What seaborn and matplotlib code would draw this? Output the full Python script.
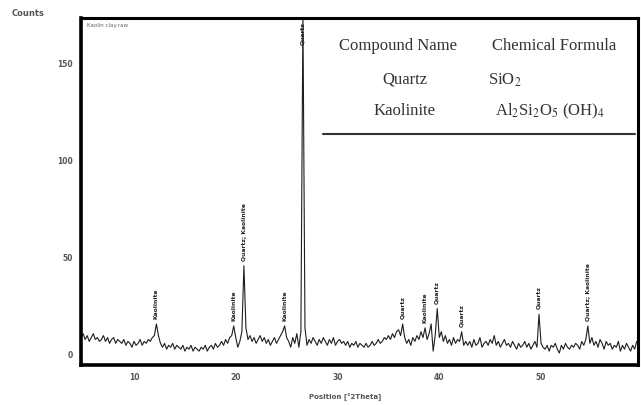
import numpy as np
import pandas as pd
import matplotlib
matplotlib.use("Agg")
import matplotlib.pyplot as plt
import seaborn as sns

# XRD scan: counts recorded on a uniform 2-theta grid
scan_start = 4.8
scan_step = 0.2
counts = [
    9, 11, 8, 10, 7, 9, 11, 8, 9, 7,          # 4.8 - 6.6
    8, 10, 7, 9, 6, 8, 9, 6, 8, 7,            # 6.8 - 8.6
    6, 8, 5, 7, 6, 4, 7, 5, 6, 8,             # 8.8 - 10.6
    5, 7, 6, 8, 7, 9, 10, 16, 10, 6,          # 10.8 - 12.6
    4, 6, 3, 5, 4, 6, 3, 5, 4, 3,             # 12.8 - 14.6
    5, 2, 4, 3, 5, 2, 4, 3, 2, 4,             # 14.8 - 16.6
    3, 5, 2, 4, 5, 3, 6, 4, 5, 7,             # 16.8 - 18.6
    5, 8, 6, 9, 10, 15, 9, 4, 7, 12,          # 18.8 - 20.6
    46, 14, 8, 10, 7, 9, 6, 8, 10, 7,         # 20.8 - 22.6
    9, 6, 8, 5, 7, 9, 6, 8, 10, 12,           # 22.8 - 24.6
    15, 9, 7, 4, 9, 6, 11, 4, 12, 176,        # 24.8 - 26.6
    14, 5, 8, 6, 9, 7, 5, 8, 6, 9,            # 26.8 - 28.6
    7, 5, 8, 6, 9, 5, 7, 8, 6, 7,             # 28.8 - 30.6
    5, 7, 4, 6, 5, 7, 4, 6, 5, 4,             # 30.8 - 32.6
    6, 4, 5, 7, 5, 6, 8, 6, 7, 9,             # 32.8 - 34.6
    8, 10, 8, 11, 9, 12, 13, 10, 16, 9,       # 34.8 - 36.6
    6, 8, 5, 9, 7, 10, 8, 12, 9, 14,          # 36.8 - 38.6
    8, 11, 16, 2, 10, 24, 9, 12, 7, 10,       # 38.8 - 40.6
    6, 8, 5, 9, 6, 8, 7, 12, 5, 7,            # 40.8 - 42.6
    5, 7, 4, 8, 5, 6, 9, 4, 6, 7,             # 42.8 - 44.6
    5, 8, 6, 10, 5, 7, 4, 6, 8, 5,            # 44.8 - 46.6
    6, 4, 7, 5, 3, 6, 4, 5, 7, 4,             # 46.8 - 48.6
    6, 3, 5, 7, 4, 21, 6, 4, 3, 5,            # 48.8 - 50.6
    2, 5, 4, 6, 3, 1, 5, 3, 6, 4,             # 50.8 - 52.6
    3, 5, 4, 6, 5, 3, 7, 5, 8, 15,            # 52.8 - 54.6
    6, 9, 5, 7, 4, 8, 6, 3, 7, 5,             # 54.8 - 56.6
    6, 3, 5, 4, 7, 2, 5, 3, 6, 4,             # 56.8 - 58.6
    2, 5, 3, 7,                               # 58.8 - 59.4
]

# identified reflections
peak_positions = [12.2, 19.8, 20.8, 24.8, 36.4, 38.6, 39.8, 42.2, 49.8, 54.6]
peak_names = ["Kaolinite", "Kaolinite", "Quartz; Kaolinite", "Kaolinite",
              "Quartz", "Kaolinite", "Quartz", "Quartz", "Quartz",
              "Quartz; Kaolinite"]
main_peak_position = 26.6
main_peak_name = "Quartz"

x_ticks = [10, 20, 30, 40, 50]
y_ticks = [0, 50, 100, 150]

table_headers = ["Compound Name", "Chemical Formula"]
compounds = ["Quartz", "Kaolinite"]
formulas = [r"SiO$_2$", r"Al$_2$Si$_2$O$_5$ (OH)$_4$"]

two_theta = np.round(scan_start + scan_step * np.arange(len(counts)), 1)
scan = pd.DataFrame({"two_theta": two_theta, "counts": counts})

sns.set_theme(style="white")
plt.rcParams["font.family"] = ["DejaVu Sans"]
plt.rcParams["mathtext.fontset"] = "stix"

W, H = 641, 405
fig = plt.figure(figsize=(W / 100, H / 100), dpi=100)
fig.patch.set_facecolor("white")


def fx(px):
    return px / W


def fy(py):
    return 1 - py / H


ax = fig.add_axes([fx(81), fy(364.7), fx(637.5) - fx(81), fy(18) - fy(364.7)])
sns.lineplot(data=scan, x="two_theta", y="counts", ax=ax, color="#1e1e1e",
             linewidth=0.8, estimator=None)

ax.set_xlim(4.79, 59.48)
ax.set_ylim(-5.0, 173.7)
ax.set_xticks(x_ticks)
ax.set_yticks(y_ticks)
ax.set_xlabel("")
ax.set_ylabel("")
ax.tick_params(axis="both", direction="out", length=4, width=0.6,
               color="#777777", labelsize=5.5, labelcolor="#555555", pad=2)
for lab in ax.get_xticklabels() + ax.get_yticklabels():
    lab.set_fontweight("bold")
for side, spine in ax.spines.items():
    spine.set_visible(True)
    spine.set_color("black")
    spine.set_linewidth(2.6 if side in ("left", "bottom") else 2.2)

# phase labels above the reflections
lookup = dict(zip(scan["two_theta"], scan["counts"]))
for pos, name in zip(peak_positions, peak_names):
    ax.text(pos, lookup[round(pos, 1)] + 2.5, name, rotation=90,
            ha="center", va="bottom", fontsize=4.3, fontweight="bold",
            color="#222222")
ax.text(main_peak_position, 171.5, main_peak_name, rotation=90,
        ha="center", va="top", fontsize=4.3, fontweight="bold",
        color="#222222")

ax.text(0.01, 0.985, "Kaolin clay.raw", transform=ax.transAxes,
        ha="left", va="top", fontsize=4, color="#666666")

fig.text(fx(12), fy(13), "Counts", ha="left", va="center", fontsize=6,
         fontweight="bold", color="#555555")
fig.text(fx(345), fy(397), "Position [°2Theta]", ha="center", va="center",
         fontsize=5, fontweight="bold", color="#555555")

# compound table
serif = dict(family=["Liberation Serif", "DejaVu Serif"], fontsize=12,
             color="#333333", ha="center", va="center")
fig.text(fx(398), fy(46), table_headers[0], **serif)
fig.text(fx(554), fy(46), table_headers[1], **serif)
row_y = [80, 111]
formula_x = [505, 550]
for name, formula, ry, fxp in zip(compounds, formulas, row_y, formula_x):
    fig.text(fx(405), fy(ry), name, **serif)
    fig.text(fx(fxp), fy(ry), formula, **serif)
fig.add_artist(plt.Line2D([fx(323), fx(635)], [fy(134), fy(134)],
                          transform=fig.transFigure, color="#333333",
                          linewidth=1.5))

fig.savefig("out.png", dpi=100, facecolor="white")
